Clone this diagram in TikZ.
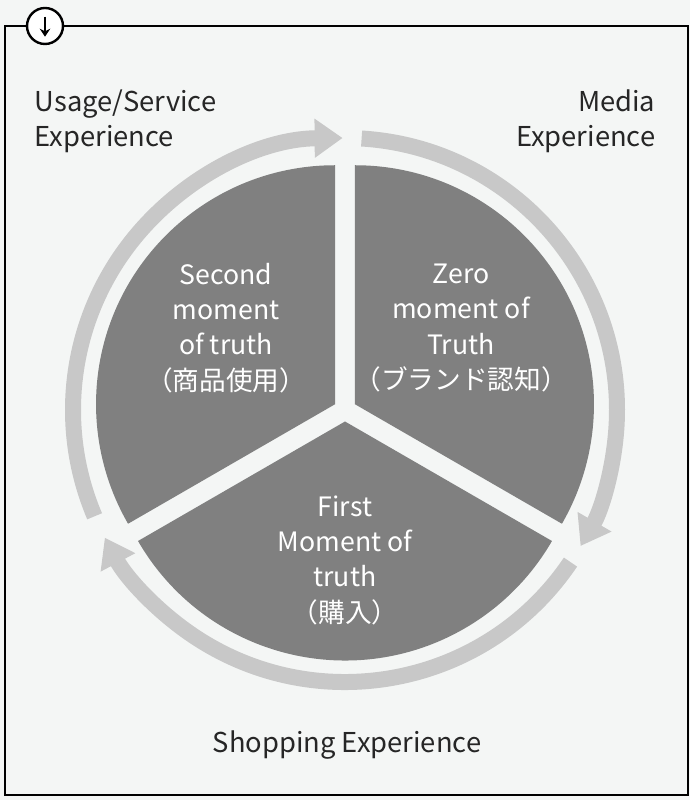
\documentclass[tikz,border=0pt]{standalone}
\usepackage{fontspec}
\setmainfont{Noto Sans CJK JP}
\usetikzlibrary{arrows.meta}
\definecolor{bg}{HTML}{F4F6F5}
\definecolor{sect}{HTML}{808080}
\definecolor{ring}{HTML}{C8C8C8}
\tikzset{
  sector/.style={fill=sect,draw=none},
  ringarr/.style={draw=ring,line width=12pt,-{Triangle[length=21pt,width=28pt]}},
  intext/.style={text=white,align=center,font=\fontsize{20}{26.5}\selectfont},
  outtext/.style={font=\fontsize{20.5}{26}\selectfont,text=black!85}
}
\begin{document}
\begin{tikzpicture}[x=0.75pt,y=0.75pt]
\useasboundingbox (0,0) rectangle (690,800);
\fill[bg] (0,0) rectangle (690,800);
\draw[line width=1.5pt] (5,5) rectangle (688,774);
\node[circle,draw,line width=1.8pt,fill=white,minimum size=27pt,inner sep=0] (icon) at (45,774) {};
\draw[line width=2pt,-{Stealth[length=6pt,width=8pt]}] ([yshift=7pt]icon.center) -- ([yshift=-8pt]icon.center);
\coordinate (c) at (345,390);
% sectors
\fill[sector] (345,390) ++(30:11.5) coordinate (a1) -- ++(90:239) arc (90:-30:239) -- cycle;
\fill[sector] (345,390) ++(150:11.5) coordinate (a2) -- ++(90:239) arc (90:210:239) -- cycle;
\fill[sector] (345,390) ++(270:11.5) coordinate (a3) -- ++(210:239) arc (210:330:239) -- cycle;
% ring arrows
\draw[ringarr] (c) ++(203:272) arc (203:90.5:272);
\draw[ringarr] (c) ++(86.5:272) arc (86.5:-30:272);
\draw[ringarr] (c) ++(-34:272) arc (-34:-152:272);
% texts
\node[intext] (z) at (461,472) {Zero\\moment of\\Truth\\（ブランド認知）};
\node[intext] (s) at (226,472) {Second\\moment\\of truth\\（商品使用）};
\node[intext] (f) at (345,240) {First\\Moment of\\truth\\（購入）};
\node[outtext,align=left,anchor=north west] (u) at (30,715) {Usage/Service\\Experience};
\node[outtext,align=right,anchor=north east] (m) at (660,715) {Media\\Experience};
\node[outtext] (sh) at (347,55) {Shopping Experience};
\end{tikzpicture}
\end{document}
